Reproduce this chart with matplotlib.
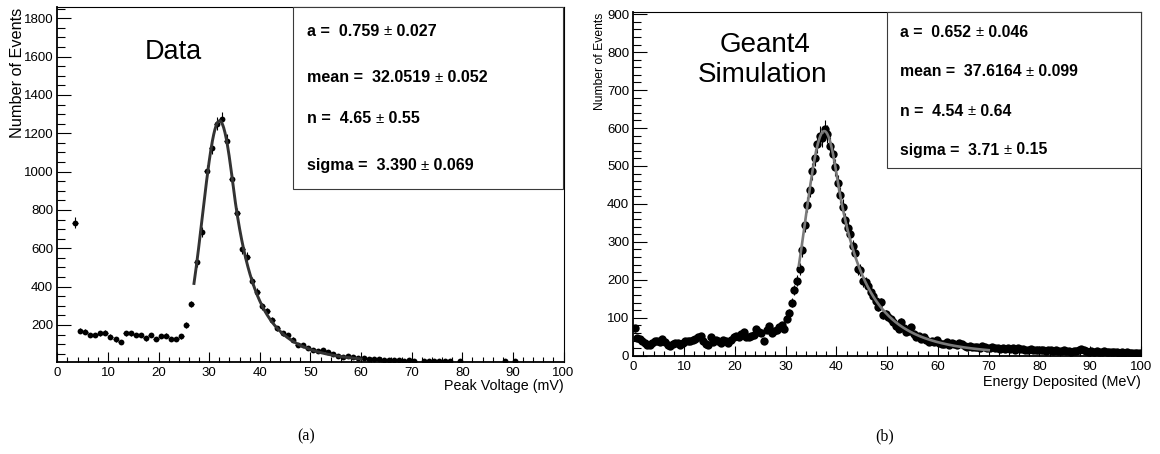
import numpy as np
import matplotlib
matplotlib.use("Agg")
import matplotlib.pyplot as plt
from matplotlib.patches import Rectangle
from matplotlib.ticker import MultipleLocator

plt.rcParams["font.family"] = ["Liberation Sans", "DejaVu Sans"]

# ---------------- data: measured peak voltage (1 mV bins) ----------------
data_centers = np.arange(0.5, 100.0, 1.0)
data_counts = np.array([
    0, 0, 0, 734, 169, 165, 148, 148, 157, 160,            # 0-10
    139, 125, 110, 157, 157, 148, 148, 130, 148, 127,      # 10-20
    143, 145, 127, 127, 141, 200, 310, 527, 687, 1004,     # 20-30
    1123, 1250, 1274, 1161, 960, 783, 595, 555, 430, 372,  # 30-40
    298, 272, 225, 182, 157, 146, 124, 96, 98, 80,         # 40-50
    68, 64, 70, 61, 50, 40, 35, 37, 34, 30,                # 50-60
    26, 22, 21, 20, 18, 16, 17, 15, 14, 15,                # 60-70
    13, 0, 12, 12, 13, 14, 13, 12, 0, 11,                  # 70-80
    0, 0, 0, 0, 0, 0, 0, 0, 12, 0,                         # 80-90
    11, 0, 0, 0, 0, 0, 0, 0, 0, 0,                         # 90-100
], dtype=float)

# ---------------- Geant4 simulation (0.5 MeV bins) ----------------
sim_centers = np.arange(0.25, 100.0, 0.5)
sim_counts = np.array([
    72, 46, 44, 38, 33, 29, 27, 33, 38, 39,
    37, 43, 35, 27, 26, 31, 34, 33, 27, 34,
    39, 38, 39, 42, 44, 48, 52, 39, 30, 27,
    48, 37, 42, 40, 34, 42, 39, 33, 41, 48,
    52, 48, 56, 63, 48, 48, 52, 55, 70, 63,
    60, 40, 67, 77, 59, 64, 68, 75, 80, 71,
    98, 112, 140, 172, 198, 228, 278, 345, 398, 438,
    486, 522, 558, 580, 574, 597, 584, 553, 531, 496,
    455, 424, 392, 357, 336, 322, 288, 270, 228, 226,
    196, 193, 185, 168, 157, 144, 128, 141, 106, 110,
    102, 96, 89, 78, 71, 89, 72, 63, 66, 76,
    58, 50, 52, 45, 48, 42, 37, 40, 35, 41,
    33, 32, 30, 37, 29, 33, 32, 27, 34, 30,
    25, 24, 26, 22, 24, 23, 21, 25, 22, 21,
    19, 23, 21, 20, 18, 19, 17, 20, 18, 19,
    16, 19, 17, 18, 16, 15, 17, 14, 16, 15,
    14, 16, 13, 15, 14, 12, 14, 13, 12, 14,
    12, 13, 11, 13, 12, 14, 17, 15, 12, 11,
    12, 10, 13, 11, 10, 12, 9, 11, 10, 9,
    10, 8, 9, 8, 9, 7, 8, 7, 8, 7,
], dtype=float)

# ---------------- Crystal Ball fit results ----------------
data_fit = dict(a=0.759, a_err=0.027, mean=32.0519, mean_err=0.052,
                n=4.65, n_err=0.55, sigma=3.390, sigma_err=0.069)
sim_fit = dict(a=0.652, a_err=0.046, mean=37.6164, mean_err=0.099,
               n=4.54, n_err=0.64, sigma=3.71, sigma_err=0.15)
data_fit_norm = 1265.0
sim_fit_norm = 592.0
data_fit_range = (27.0, 60.0)
sim_fit_range = (32.6, 70.0)

data_stat_lines = [("a =  0.759 ", " 0.027"), ("mean =  32.0519 ", " 0.052"),
                   ("n =  4.65 ", " 0.55"), ("sigma =  3.390 ", " 0.069")]
sim_stat_lines = [("a =  0.652 ", " 0.046"), ("mean =  37.6164 ", " 0.099"),
                  ("n =  4.54 ", " 0.64"), ("sigma =  3.71 ", " 0.15")]


def crystal_ball(x, norm, a, mean, n, sigma):
    """Crystal Ball shape with its power-law tail on the high side."""
    t = (x - mean) / sigma
    A = (n / a) ** n * np.exp(-0.5 * a * a)
    B = n / a - a
    out = np.where(t < a, np.exp(-0.5 * t * t),
                   A * np.power(np.maximum(B + t, 1e-9), -n))
    return norm * out


W, H = 1160, 454
fig = plt.figure(figsize=(W / 100, H / 100), dpi=100)


def axes_px(left, top, right, bottom):
    return fig.add_axes([left / W, 1 - bottom / H, (right - left) / W, (bottom - top) / H])


def style_axes(ax, ymajor, yminor):
    ax.xaxis.set_major_locator(MultipleLocator(10))
    ax.xaxis.set_minor_locator(MultipleLocator(2))
    ax.yaxis.set_major_locator(MultipleLocator(ymajor))
    ax.yaxis.set_minor_locator(MultipleLocator(yminor))
    ax.tick_params(axis="both", which="both", direction="in", top=False, right=False,
                   width=0.8, labelsize=9.5, colors="black")
    ax.tick_params(axis="x", which="major", length=7.5, pad=4)
    ax.tick_params(axis="x", which="minor", length=3.8)
    ax.tick_params(axis="y", which="major", length=10, pad=3)
    ax.tick_params(axis="y", which="minor", length=5.5)
    for side in ("left", "bottom"):
        ax.spines[side].set_linewidth(1.3)
    for side in ("top", "right"):
        ax.spines[side].set_linewidth(0.8)


def draw_hist(ax, centers, counts, half_width, ms, cap):
    m = counts > 0
    x, y = centers[m], counts[m]
    err = np.sqrt(y)
    ax.errorbar(x, y, xerr=half_width, fmt="none", ecolor="black", elinewidth=0.8, capsize=0)
    ax.errorbar(x, y, yerr=err, fmt="o", color="black", ms=ms, elinewidth=0.8,
                capsize=cap, capthick=0.8, mew=0)


def stat_box(left, top, right, bottom, text_x, rows_y, lines, size):
    fig.add_artist(Rectangle((left / W, 1 - bottom / H), (right - left) / W, (bottom - top) / H,
                             transform=fig.transFigure, facecolor="white",
                             edgecolor="#3a3a3a", lw=0.8, zorder=5))
    renderer = fig.canvas.get_renderer()
    for (head, tail), y in zip(lines, rows_y):
        cur = text_x
        for s, weight, fs in ((head, "bold", size), ("\u00b1", "normal", size * 0.92),
                              (tail, "bold", size)):
            t = fig.text(cur / W, 1 - y / H, s, fontsize=fs, fontweight=weight,
                         ha="left", va="center", zorder=6)
            cur = t.get_window_extent(renderer).x1


# ---------------- left panel: data ----------------
ax1 = axes_px(57.3, 7.3, 563.5, 361.7)
draw_hist(ax1, data_centers, data_counts, 0.5, 4.2, 1.8)
xf = np.linspace(*data_fit_range, 400)
ax1.plot(xf, crystal_ball(xf, data_fit_norm, data_fit["a"], data_fit["mean"],
                          data_fit["n"], data_fit["sigma"]),
         color="#333333", lw=2.1, zorder=4)
ax1.set_xlim(0, 100)
ax1.set_ylim(8.5, 1857)
style_axes(ax1, 200, 50)
ax1.set_xlabel("Peak Voltage (mV)", fontsize=10.3, ha="right", va="top")
ax1.xaxis.set_label_coords(1.0, -(379 - 361.7) / (361.7 - 7.3))
ax1.set_ylabel("Number of Events", fontsize=11.7, ha="right", va="center")
ax1.yaxis.set_label_coords(-(57.3 - 18) / (563.5 - 57.3), 1.0)
ax1.text(173 / W, 1 - 51.7 / H, "Data", transform=fig.transFigure, fontsize=19.5,
         ha="center", va="center")

# ---------------- right panel: simulation ----------------
ax2 = axes_px(633.3, 12.3, 1141, 355.7)
draw_hist(ax2, sim_centers, sim_counts, 0.25, 6.0, 1.8)
xs = np.linspace(*sim_fit_range, 400)
ax2.plot(xs, crystal_ball(xs, sim_fit_norm, sim_fit["a"], sim_fit["mean"],
                          sim_fit["n"], sim_fit["sigma"]),
         color="#7a7a7a", lw=1.9, zorder=4)
ax2.set_xlim(0, 100)
ax2.set_ylim(0, 905)
style_axes(ax2, 100, 20)
ax2.set_xlabel("Energy Deposited (MeV)", fontsize=10.4, ha="right", va="top")
ax2.xaxis.set_label_coords(1.0, -(375 - 355.7) / (355.7 - 12.3))
ax2.set_ylabel("Number of Events", fontsize=8.7, ha="right", va="center")
ax2.yaxis.set_label_coords(-(633.3 - 600) / (1141 - 633.3), 1.0)
ax2.text(765 / W, 1 - 45 / H, "Geant4", transform=fig.transFigure, fontsize=20,
         ha="center", va="center")
ax2.text(763 / W, 1 - 75 / H, "Simulation", transform=fig.transFigure, fontsize=20,
         ha="center", va="center")

# ---------------- fit statistics boxes ----------------
stat_box(293.3, 7.3, 563.3, 189.0, 306.7, [31, 77.7, 119, 165.7], data_stat_lines, 11.6)
stat_box(887.3, 12.3, 1140.5, 168.3, 900.0, [32.3, 71.7, 111, 150], sim_stat_lines, 11.4)

# ---------------- sub-figure captions ----------------
fig.text(306 / W, 1 - 436 / H, "(a)", fontsize=11.5, family="Liberation Serif",
         ha="center", va="center")
fig.text(885 / W, 1 - 436 / H, "(b)", fontsize=11.5, family="Liberation Serif",
         ha="center", va="center")

fig.savefig("out.png", dpi=100, facecolor="white")
